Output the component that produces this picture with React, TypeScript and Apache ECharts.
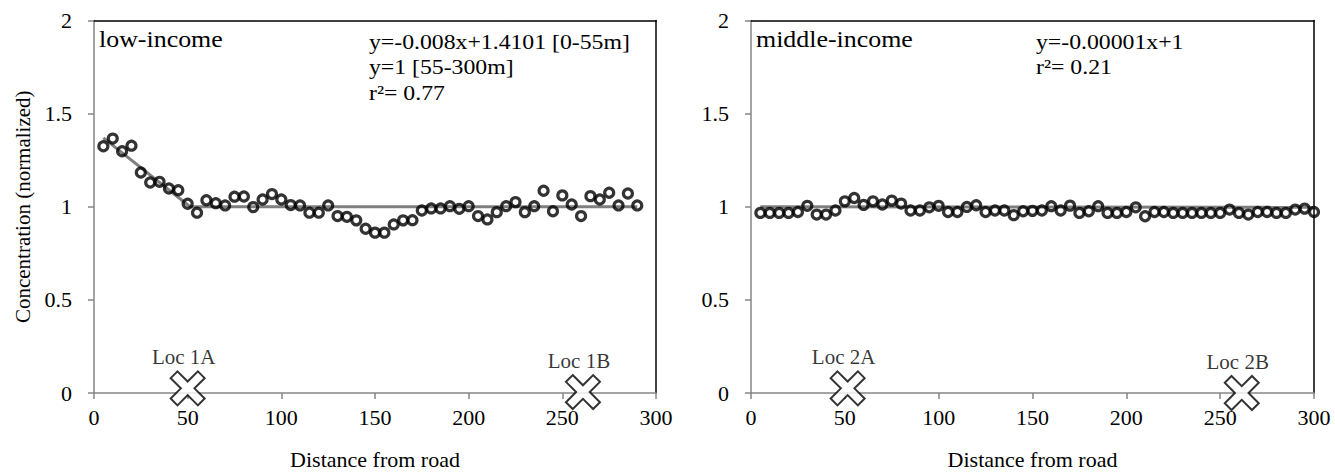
import React, { useEffect, useRef } from "react";
import * as echarts from "echarts";

// ---------- data ----------
const distanceLow = [5, 10, 15, 20, 25, 30, 35, 40, 45, 50, 55, 60, 65, 70, 75, 80, 85, 90, 95, 100, 105, 110, 115, 120, 125, 130, 135, 140, 145, 150, 155, 160, 165, 170, 175, 180, 185, 190, 195, 200, 205, 210, 215, 220, 225, 230, 235, 240, 245, 250, 255, 260, 265, 270, 275, 280, 285, 290];
const concLow = [1.325, 1.366, 1.298, 1.328, 1.184, 1.13, 1.134, 1.098, 1.089, 1.016, 0.968, 1.035, 1.019, 1.007, 1.054, 1.055, 0.998, 1.039, 1.068, 1.039, 1.009, 1.007, 0.968, 0.968, 1.007, 0.95, 0.946, 0.927, 0.882, 0.861, 0.861, 0.905, 0.927, 0.928, 0.98, 0.991, 0.991, 1.003, 0.989, 1.003, 0.95, 0.932, 0.971, 1.003, 1.025, 0.971, 1.003, 1.086, 0.976, 1.061, 1.012, 0.95, 1.057, 1.039, 1.075, 1.007, 1.071, 1.007];

const distanceMid = [5, 10, 15, 20, 25, 30, 35, 40, 45, 50, 55, 60, 65, 70, 75, 80, 85, 90, 95, 100, 105, 110, 115, 120, 125, 130, 135, 140, 145, 150, 155, 160, 165, 170, 175, 180, 185, 190, 195, 200, 205, 210, 215, 220, 225, 230, 235, 240, 245, 250, 255, 260, 265, 270, 275, 280, 285, 290, 295, 300];
const concMid = [0.967, 0.967, 0.967, 0.967, 0.972, 1.005, 0.958, 0.958, 0.98, 1.029, 1.047, 1.01, 1.029, 1.012, 1.033, 1.017, 0.98, 0.98, 0.997, 1.005, 0.972, 0.972, 0.999, 1.008, 0.972, 0.98, 0.98, 0.955, 0.976, 0.978, 0.98, 1.003, 0.98, 1.006, 0.967, 0.976, 1.003, 0.967, 0.967, 0.972, 0.997, 0.949, 0.972, 0.972, 0.967, 0.967, 0.967, 0.967, 0.967, 0.967, 0.985, 0.967, 0.958, 0.972, 0.972, 0.967, 0.967, 0.985, 0.99, 0.972];

// regression lines (y=-0.008x+1.4101 for 0-55m, y=1 after; y=-0.00001x+1)
const fitLowX = [5, 51.3, 290];
const fitLowY = [1.37, 1.0, 1.0];
const fitMidX = [5, 300];
const fitMidY = [1.0, 0.997];

// sampling locations
const locLowX = [50, 261];
const locLowY = [0.025, 0.005];
const locLowLabels = ["Loc 1A", "Loc 1B"];
const locMidX = [51.5, 261.5];
const locMidY = [0.025, 0.0];
const locMidLabels = ["Loc 2A", "Loc 2B"];

const titleLow = "low-income";
const titleMid = "middle-income";
const eqLow = ["y=-0.008x+1.4101 [0-55m]", "y=1 [55-300m]", "r²= 0.77"];
const eqMid = ["y=-0.00001x+1", "r²= 0.21"];

const xName = "Distance from road";
const yName = "Concentration (normalized)";

// ---------- styles ----------
const FONT = "Liberation Serif";
const AXIS_GRAY = "#868686";
const FIT_GRAY = "#7f7f7f";
const CROSS = "path://M2,0 L5,3 L8,0 L10,2 L7,5 L10,8 L8,10 L5,7 L2,10 L0,8 L3,5 L0,2 Z";

const zip = (xs: number[], ys: number[]) => xs.map((x, i) => [x, ys[i]]);

function bottomX(grid: number) {
  return {
    gridIndex: grid,
    type: "value",
    position: "bottom",
    min: 0,
    max: 300,
    interval: 50,
    axisLine: { show: true, onZero: false, lineStyle: { color: AXIS_GRAY, width: 1.5 } },
    axisTick: { show: true, length: 6, lineStyle: { color: AXIS_GRAY, width: 1.5 } },
    axisLabel: { margin: 13, fontSize: 22, fontFamily: FONT, color: "#000" },
    splitLine: { show: false },
    name: xName,
    nameLocation: "middle",
    nameGap: 55,
    nameTextStyle: { fontSize: 22, fontFamily: FONT, color: "#000" },
  };
}
function topX(grid: number) {
  return {
    gridIndex: grid,
    type: "value",
    position: "top",
    min: 0,
    max: 300,
    interval: 50,
    axisLine: { show: true, onZero: false, lineStyle: { color: "#000", width: 1.5 } },
    axisTick: { show: false },
    axisLabel: { show: false },
    splitLine: { show: false },
  };
}
function leftY(grid: number, withName: boolean) {
  return {
    gridIndex: grid,
    type: "value",
    position: "left",
    min: 0,
    max: 2,
    interval: 0.5,
    axisLine: { show: true, onZero: false, lineStyle: { color: AXIS_GRAY, width: 1.5 } },
    axisTick: { show: true, length: 6, lineStyle: { color: AXIS_GRAY, width: 1.5 } },
    axisLabel: { margin: 22, fontSize: 22, fontFamily: FONT, color: "#000" },
    splitLine: { show: false },
    name: withName ? yName : "",
    nameLocation: "middle",
    nameGap: 61,
    nameTextStyle: { fontSize: 21, fontFamily: FONT, color: "#000" },
  };
}
function rightY(grid: number) {
  return {
    gridIndex: grid,
    type: "value",
    position: "right",
    min: 0,
    max: 2,
    interval: 0.5,
    axisLine: { show: true, onZero: false, lineStyle: { color: "#000", width: 1.5 } },
    axisTick: { show: false },
    axisLabel: { show: false },
    splitLine: { show: false },
  };
}

function fitSeries(xi: number, yi: number, xs: number[], ys: number[]) {
  return {
    type: "line",
    xAxisIndex: xi,
    yAxisIndex: yi,
    data: zip(xs, ys),
    symbol: "none",
    lineStyle: { color: FIT_GRAY, width: 3 },
    z: 2,
  };
}
function dataSeries(xi: number, yi: number, xs: number[], ys: number[]) {
  return {
    type: "scatter",
    xAxisIndex: xi,
    yAxisIndex: yi,
    data: zip(xs, ys),
    symbol: "circle",
    symbolSize: 9,
    clip: false,
    itemStyle: { color: "rgba(255,255,255,0)", borderColor: "#000", borderWidth: 3.2 },
    z: 3,
  };
}
function locSeries(xi: number, yi: number, xs: number[], ys: number[], labels: string[]) {
  return {
    type: "scatter",
    xAxisIndex: xi,
    yAxisIndex: yi,
    data: zip(xs, ys),
    symbol: CROSS,
    symbolSize: 34,
    clip: false,
    itemStyle: { color: "#fff", borderColor: "#000", borderWidth: 2 },
    label: {
      show: true,
      position: "top",
      distance: 3,
      offset: [-4, 0],
      formatter: (p: any) => labels[p.dataIndex],
      fontSize: 21,
      fontFamily: FONT,
      color: "#000",
    },
    z: 4,
  };
}

function textEl(x: number, y: number, text: string, size: number, sx: number) {
  return {
    type: "text",
    x,
    y,
    scaleX: sx,
    style: {
      text,
      fontFamily: FONT,
      fontSize: size,
      fill: "#000",
      align: "left",
      verticalAlign: "middle",
    },
  };
}

export default function App() {
  const ref = useRef<HTMLDivElement>(null);

  useEffect(() => {
    if (!ref.current) return;
    const chart = echarts.init(ref.current, undefined, { renderer: "svg" });
    chart.setOption({
      animation: false,
      backgroundColor: "#fff",
      textStyle: { fontFamily: FONT },
      grid: [
        { left: 94, top: 20.5, width: 562, height: 372.5 },
        { left: 751, top: 20.5, width: 563, height: 372.5 },
      ],
      xAxis: [bottomX(0), topX(0), bottomX(1), topX(1)],
      yAxis: [leftY(0, true), rightY(0), leftY(1, false), rightY(1)],
      series: [
        fitSeries(0, 0, fitLowX, fitLowY),
        dataSeries(0, 0, distanceLow, concLow),
        locSeries(0, 0, locLowX, locLowY, locLowLabels),
        fitSeries(2, 2, fitMidX, fitMidY),
        dataSeries(2, 2, distanceMid, concMid),
        locSeries(2, 2, locMidX, locMidY, locMidLabels),
      ],
      graphic: [
        textEl(99, 39, titleLow, 24, 1.08),
        textEl(369, 42, eqLow[0], 22, 1.08),
        textEl(369, 67, eqLow[1], 22, 1.08),
        textEl(369, 93, eqLow[2], 22, 1.08),
        textEl(756, 39, titleMid, 24, 1.08),
        textEl(1036, 42, eqMid[0], 22, 1.08),
        textEl(1036, 67, eqMid[1], 22, 1.08),
      ],
    });
    return () => chart.dispose();
  }, []);

  return (
    <div
      ref={ref}
      style={{ position: "fixed", left: 0, top: 0, width: 1335, height: 475, background: "#fff" }}
    />
  );
}
